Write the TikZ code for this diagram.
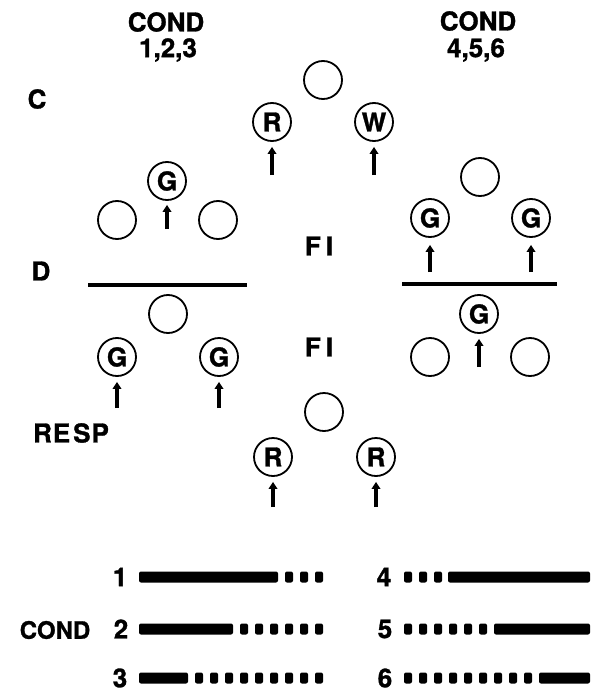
\documentclass[tikz,border=0pt]{standalone}
\usepackage{fontspec}
\setmainfont{TeX Gyre Heros}[BoldFeatures={FakeBold=1.2}]
\usetikzlibrary{arrows.meta}
\begin{document}
\begin{tikzpicture}[x=1pt,y=-1pt,
  lbl/.style={font=\fontsize{26}{28}\selectfont\bfseries, inner sep=0pt},
  slbl/.style={font=\fontsize{24}{26}\selectfont\bfseries, inner sep=0pt},
  circ/.style={circle, draw, line width=1.8pt, minimum size=38pt, inner sep=0pt, font=\fontsize{26}{28}\selectfont\bfseries},
  uparrow/.style={line width=4.2pt, -{Triangle[length=7pt,width=8.5pt]}},
  divider/.style={line width=3.5pt},
  barpart/.style={fill=black, rounded corners=2pt}
]
\useasboundingbox (0,0) rectangle (598,695);

% header labels
\node[lbl] (condL) at (166,22) {COND};
\node[lbl] (numL) at (168,50) {1,2,3};
\node[lbl] (condR) at (478,21) {COND};
\node[lbl] (numR) at (476,50) {4,5,6};
\node[lbl] (lC) at (37,99) {C};
\node[lbl] (lD) at (41,271) {D};
\node[lbl] (lResp) at (71,433) {R\kern1pt E\kern3pt S\kern1pt P};
\node[lbl] (fi1) at (319,246) {F\kern5pt I};
\node[lbl] (fi2) at (319,347) {F\kern5pt I};

% middle top
\node[circ] (mt) at (323,80) {};
\node[circ] (mtR) at (272,122) {R};
\node[circ] (mtW) at (374,122) {W};
\coordinate (a1) at (272,175);
\coordinate (a2) at (374,175);
\draw[uparrow] (a1) -- ([yshift=-5pt]mtR.south);
\draw[uparrow] (a2) -- ([yshift=-5pt]mtW.south);

% left group
\node[circ] (lG) at (167,181) {G};
\node[circ] (lc1) at (117,220) {};
\node[circ] (lc2) at (218,220) {};
\coordinate (a3) at (167,229);
\draw[uparrow] (a3) -- ([yshift=-4pt]lG.south);
\coordinate (ll1) at (88,285);
\coordinate (ll2) at (247,285);
\draw[divider] (ll1) -- (ll2);
\node[circ] (lc3) at (168,314) {};
\node[circ] (lG1) at (117,357) {G};
\node[circ] (lG2) at (219,357) {G};
\coordinate (a4) at (117,408);
\coordinate (a5) at (219,408);
\draw[uparrow] (a4) -- ([yshift=-5pt]lG1.south);
\draw[uparrow] (a5) -- ([yshift=-5pt]lG2.south);

% right group
\node[circ] (rc) at (480,177) {};
\node[circ] (rG1) at (430,218) {G};
\node[circ] (rG2) at (531,218) {G};
\coordinate (a6) at (430,272);
\coordinate (a7) at (531,272);
\draw[uparrow] (a6) -- ([yshift=-7pt]rG1.south);
\draw[uparrow] (a7) -- ([yshift=-7pt]rG2.south);
\coordinate (rl1) at (402,284);
\coordinate (rl2) at (557,284);
\draw[divider] (rl1) -- (rl2);
\node[circ] (rG3) at (479,314) {G};
\coordinate (a8) at (479,367);
\draw[uparrow] (a8) -- ([yshift=-5pt]rG3.south);
\node[circ] (rc1) at (430,357) {};
\node[circ] (rc2) at (530,357) {};

% middle bottom
\node[circ] (mb) at (324,412) {};
\node[circ] (mbR1) at (273,457) {R};
\node[circ] (mbR2) at (376,457) {R};
\coordinate (a9) at (273,507);
\coordinate (a10) at (376,507);
\draw[uparrow] (a9) -- ([yshift=-5pt]mbR1.south);
\draw[uparrow] (a10) -- ([yshift=-5pt]mbR2.south);

% bottom legend
\node[slbl] (condB) at (55,630) {COND};
\node[lbl] (n1) at (120,577) {1};
\node[lbl] (n2) at (121,629) {2};
\node[lbl] (n3) at (120,678) {3};
\node[lbl] (n4) at (384,577) {4};
\node[lbl] (n5) at (385,629) {5};
\node[lbl] (n6) at (385,678) {6};

% left bars: solid then squares
\foreach \y/\n/\e in {577/3/278, 629/6/233, 678/9/188} {
  \fill[barpart] (139,\y-5.5) rectangle (\e,\y+5.5);
  \foreach \i in {1,...,\n} {
    \fill[barpart] ({315-15*(\i-1)},\y-5.5) rectangle ({323-15*(\i-1)},\y+5.5);
  }
}
% right bars: squares then solid
\foreach \y/\n/\s in {577/3/448, 629/6/494, 678/9/539} {
  \foreach \i in {1,...,\n} {
    \fill[barpart] ({404+15*(\i-1)},\y-5.5) rectangle ({412+15*(\i-1)},\y+5.5);
  }
  \fill[barpart] (\s,\y-5.5) rectangle (590,\y+5.5);
}
\end{tikzpicture}
\end{document}
